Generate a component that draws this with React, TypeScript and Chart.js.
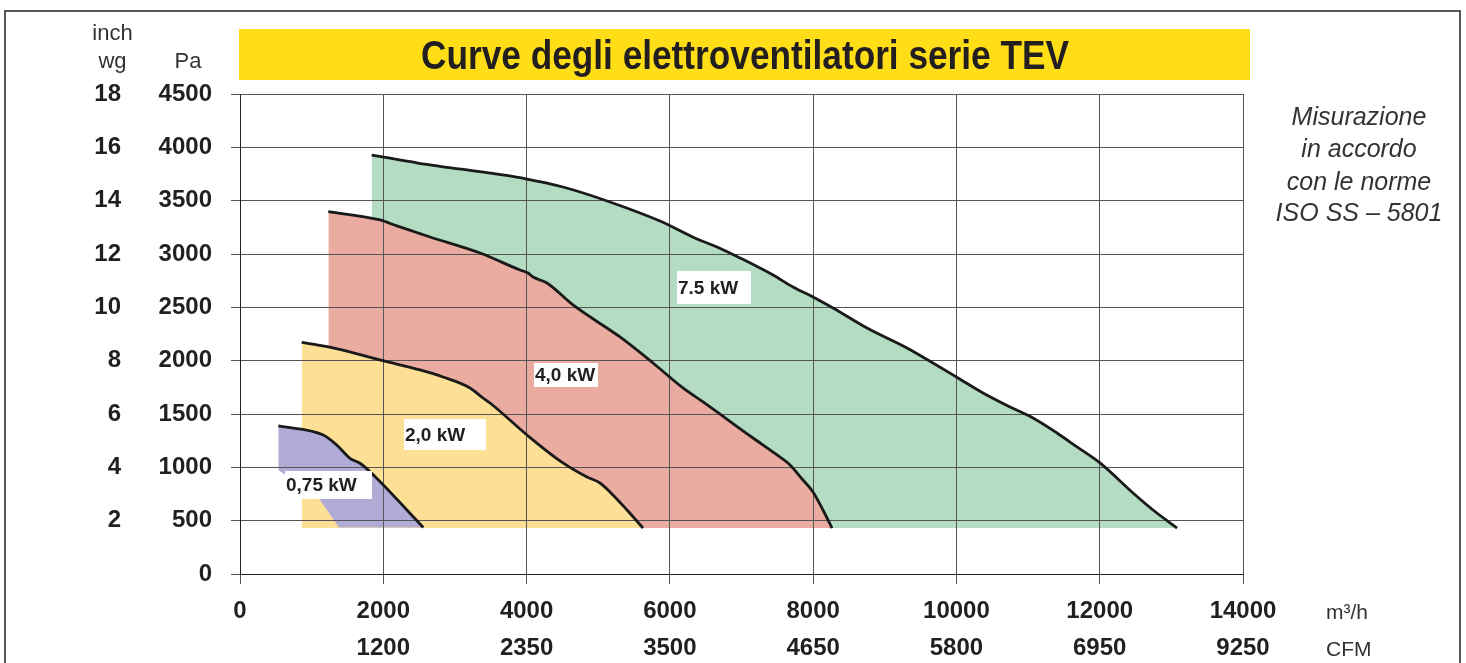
import React, { useEffect, useRef } from 'react';
import { Chart, registerables } from 'chart.js';

Chart.register(...registerables);

// ---------- data ----------
const X_TICKS_M3H = ['0', '2000', '4000', '6000', '8000', '10000', '12000', '14000'];
const X_TICKS_CFM = ['', '1200', '2350', '3500', '4650', '5800', '6950', '9250'];
const Y_TICKS_INCH = ['', '2', '4', '6', '8', '10', '12', '14', '16', '18'];

const CURVE_7_5 = [
  { x: 1838, y: 3928 }, { x: 2485, y: 3853 }, { x: 4006, y: 3703 }, { x: 4508, y: 3628 },
  { x: 5164, y: 3488 }, { x: 5862, y: 3309 }, { x: 6379, y: 3141 }, { x: 6658, y: 3066 },
  { x: 6979, y: 2963 }, { x: 7440, y: 2803 }, { x: 7719, y: 2691 }, { x: 7998, y: 2597 },
  { x: 8277, y: 2494 }, { x: 8752, y: 2306 }, { x: 9310, y: 2119 }, { x: 9673, y: 1978 },
  { x: 10022, y: 1838 }, { x: 10371, y: 1697 }, { x: 10748, y: 1566 }, { x: 11069, y: 1463 },
  { x: 11404, y: 1322 }, { x: 11683, y: 1191 }, { x: 12004, y: 1041 }, { x: 12465, y: 759 },
  { x: 12744, y: 600 }, { x: 13079, y: 431 },
];
const CURVE_4_0 = [
  { x: 1233, y: 3397 }, { x: 1954, y: 3319 }, { x: 2191, y: 3263 }, { x: 2652, y: 3159 },
  { x: 3350, y: 3009 }, { x: 3908, y: 2850 }, { x: 4020, y: 2822 }, { x: 4090, y: 2784 },
  { x: 4285, y: 2728 }, { x: 4648, y: 2522 }, { x: 5304, y: 2222 }, { x: 5765, y: 1978 },
  { x: 6183, y: 1744 }, { x: 6463, y: 1613 }, { x: 7161, y: 1275 }, { x: 7496, y: 1116 },
  { x: 7677, y: 1022 }, { x: 7858, y: 881 }, { x: 7998, y: 769 }, { x: 8137, y: 600 },
  { x: 8263, y: 431 },
];
const CURVE_2_0 = [
  { x: 861, y: 2172 }, { x: 1326, y: 2116 }, { x: 1996, y: 2000 }, { x: 2512, y: 1913 },
  { x: 2833, y: 1847 }, { x: 3210, y: 1744 }, { x: 3392, y: 1650 }, { x: 3490, y: 1603 },
  { x: 4006, y: 1303 }, { x: 4508, y: 1041 }, { x: 4843, y: 909 }, { x: 5025, y: 853 },
  { x: 5164, y: 769 }, { x: 5402, y: 600 }, { x: 5625, y: 431 },
];
const CURVE_0_75 = [
  { x: 535, y: 1388 }, { x: 1163, y: 1303 }, { x: 1350, y: 1209 }, { x: 1535, y: 1085 },
  { x: 1675, y: 1038 }, { x: 1815, y: 959 }, { x: 2559, y: 436 },
];
const BASE_0_75 = [
  { x: 535, y: 975 }, { x: 1117, y: 694 }, { x: 1382, y: 436 }, { x: 2559, y: 436 },
];
const FILL_BASE = 431;

const LABEL_TEXTS = ['7.5 kW', '4,0 kW', '2,0 kW', '0,75 kW'];
const LABEL_AT_X = [6100, 4104, 2289, 628];
const LABEL_AT_Y = [2841, 1978, 1453, 966];

// ---------- styles ----------
const LABEL_BOX = [[74, 33], [64, 24], [82, 31], [87, 28]];
const TEXT = '#231f20';
const FONT = "'Liberation Sans', Arial, Helvetica, sans-serif";
const TITLE = 'Curve degli elettroventilatori serie TEV';
const NOTE = ['Misurazione', 'in accordo', 'con le norme', 'ISO SS \u2013 5801'];

const decoPlugin = {
  id: 'deco',
  afterDraw(chart: any) {
    const ctx = chart.ctx as CanvasRenderingContext2D;
    const xs = chart.scales.x;
    const ys = chart.scales.y;
    ctx.save();
    // frame
    ctx.strokeStyle = '#555';
    ctx.lineWidth = 2;
    ctx.beginPath();
    ctx.moveTo(5, 670);
    ctx.lineTo(5, 11);
    ctx.lineTo(1460, 11);
    ctx.lineTo(1460, 670);
    ctx.stroke();

    // title bar
    ctx.fillStyle = '#ffde17';
    ctx.fillRect(239, 29, 1011, 51);
    ctx.fillStyle = TEXT;
    ctx.font = `bold 40px ${FONT}`;
    const tw = ctx.measureText(TITLE).width;
    ctx.save();
    ctx.translate(745, 69);
    ctx.scale(648 / tw, 1);
    ctx.textAlign = 'center';
    ctx.textBaseline = 'alphabetic';
    ctx.fillText(TITLE, 0, 0);
    ctx.restore();

    // axis headers
    ctx.fillStyle = '#333';
    ctx.font = `22px ${FONT}`;
    ctx.textAlign = 'center';
    ctx.textBaseline = 'alphabetic';
    ctx.fillText('inch', 112.5, 40);
    ctx.fillText('wg', 112.5, 68);
    ctx.fillText('Pa', 188, 68);

    // units
    ctx.textAlign = 'left';
    ctx.font = `21px ${FONT}`;
    ctx.fillText('m\u00b3/h', 1326, 619);
    ctx.fillText('CFM', 1326, 656);

    // note
    ctx.font = `italic 25px ${FONT}`;
    ctx.textAlign = 'center';
    const nb = [125, 157, 190, 221];
    NOTE.forEach((t, i) => ctx.fillText(t, 1359, nb[i]));

    // series labels
    ctx.font = `bold 19px ${FONT}`;
    ctx.textAlign = 'left';
    ctx.textBaseline = 'middle';
    LABEL_TEXTS.forEach((t, i) => {
      const px = xs.getPixelForValue(LABEL_AT_X[i]);
      const py = ys.getPixelForValue(LABEL_AT_Y[i]);
      const [w, h] = LABEL_BOX[i];
      ctx.fillStyle = '#ffffff';
      ctx.fillRect(px, py, w, h);
      ctx.fillStyle = TEXT;
      ctx.fillText(t, px + 1, py + h / 2 + 1);
    });
    ctx.restore();
  },
};

export default function App() {
  const ref = useRef<HTMLCanvasElement | null>(null);

  useEffect(() => {
    if (!ref.current) return;
    const line = {
      borderColor: '#1a1a1a',
      borderWidth: 2.8,
      pointRadius: 0,
      cubicInterpolationMode: 'monotone' as const,
      borderJoinStyle: 'round' as const,
    };
    const chart = new Chart(ref.current, {
      type: 'line',
      data: {
        datasets: [
          { ...line, label: '0,75 kW', data: CURVE_0_75, backgroundColor: '#b0acd6', fill: '+1' },
          { label: 'base', data: BASE_0_75, borderColor: 'rgba(0,0,0,0)', borderWidth: 0, pointRadius: 0, fill: false },
          { ...line, label: '2,0 kW', data: CURVE_2_0, backgroundColor: '#fde096', fill: { target: { value: FILL_BASE } } },
          { ...line, label: '4,0 kW', data: CURVE_4_0, backgroundColor: '#eaaca0', fill: { target: { value: FILL_BASE } } },
          { ...line, label: '7.5 kW', data: CURVE_7_5, backgroundColor: '#b3dcc2', fill: { target: { value: FILL_BASE } } },
        ],
      },
      options: {
        responsive: false,
        animation: false,
        events: [],
        layout: { padding: { left: 60, top: 94, right: 223, bottom: 0 } },
        plugins: {
          legend: { display: false },
          tooltip: { enabled: false },
          filler: { drawTime: 'beforeDraw', propagate: false },
        },
        scales: {
          x: {
            type: 'linear',
            min: 0,
            max: 14000,
            afterFit: (s: any) => { s.height = 89; },
            grid: { color: '#555', lineWidth: 1, tickLength: 10, drawTicks: true },
            border: { color: '#222', width: 1 },
            ticks: {
              stepSize: 2000,
              autoSkip: false,
              maxRotation: 0,
              padding: 9,
              color: TEXT,
              font: { family: FONT, size: 24, weight: 'bold', lineHeight: 37 / 24 },
              callback: (_v: any, i: number) => [X_TICKS_M3H[i], X_TICKS_CFM[i]],
            },
          },
          y: {
            type: 'linear',
            position: 'left',
            weight: 0,
            min: 0,
            max: 4500,
            afterFit: (s: any) => { s.width = 90; },
            grid: { color: '#555', lineWidth: 1, tickLength: 9, drawTicks: true },
            border: { color: '#222', width: 1 },
            ticks: {
              stepSize: 500,
              padding: 19,
              color: TEXT,
              font: { family: FONT, size: 24, weight: 'bold' },
              callback: (v: any) => String(v),
            },
          },
          y2: {
            type: 'linear',
            position: 'left',
            weight: 1,
            min: 0,
            max: 4500,
            afterFit: (s: any) => { s.width = 90; },
            grid: { display: false, drawTicks: false },
            border: { display: false },
            ticks: {
              stepSize: 500,
              padding: 29,
              color: TEXT,
              font: { family: FONT, size: 24, weight: 'bold' },
              callback: (_v: any, i: number) => Y_TICKS_INCH[i],
            },
          },
        },
      },
      plugins: [decoPlugin],
    } as any);
    return () => chart.destroy();
  }, []);

  return (
    <div style={{ position: 'fixed', left: 0, top: 0, width: 1466, height: 663, overflow: 'hidden', background: '#fff' }}>
      <canvas ref={ref} width={1466} height={663} style={{ display: 'block' }} />
    </div>
  );
}
